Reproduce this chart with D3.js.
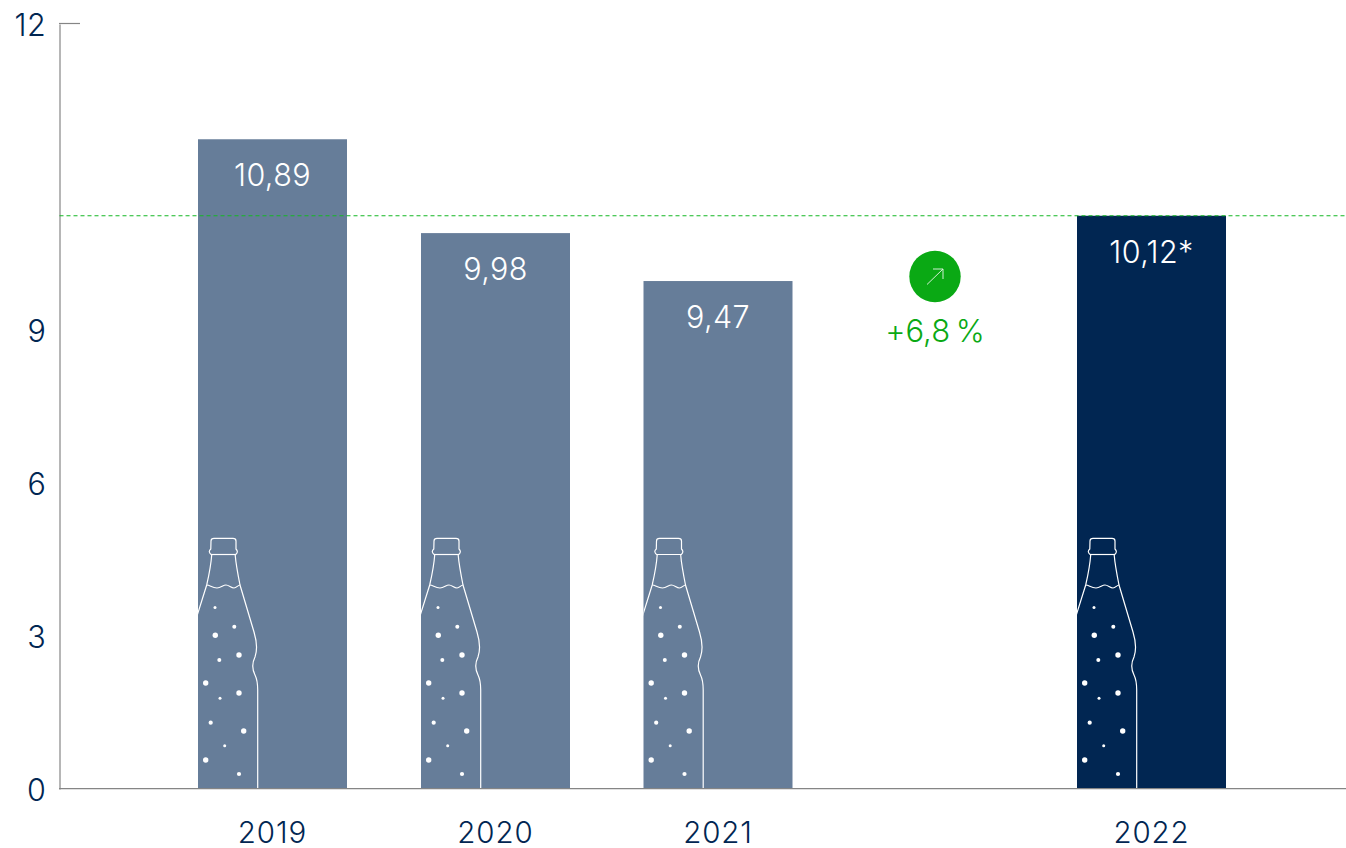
<!DOCTYPE html>
<html>
<head>
<meta charset="utf-8">
<script src="https://cdn.jsdelivr.net/npm/d3@7"></script>
<style>
html, body { margin: 0; padding: 0; background: #fff; overflow: hidden; }
text { font-family: Inter, "Noto Sans", sans-serif; font-weight: 300; }
</style>
</head>
<body>
<div id="chart"></div>
<script>
// values
const years = ["2019", "2020", "2021", "2022"];
const barLabels = ["10,89", "9,98", "9,47", "10,12*"];
const barValues = [10.87, 9.95, 9.48, 10.12];
const yTicks = [0, 3, 6, 9, 12];
const targetValue = 10.12;
const changeLabel = "+6,8\u202F%";

const navy = "#012652";
const slate = "#667d99";
const green = "#0aa914";
const axisGrey = "#858585";

const width = 1346, height = 848;
const svg = d3.select("#chart").append("svg")
    .attr("width", width)
    .attr("height", height);

// the axis of the original is not linear: 9 to 12 is stretched
const y = d3.scaleLinear().domain([0, 9, 12]).range([789, 330, 24]);
const x = d3.scaleOrdinal().domain(years).range([272.5, 495.5, 718, 1151.5]);
const barWidth = 149;

// BARS
const bars = svg.append("g").selectAll("g")
    .data(years)
    .enter().append("g");

bars.append("rect")
    .attr("x", d => x(d) - barWidth / 2)
    .attr("width", barWidth)
    .attr("y", (d, i) => y(barValues[i]))
    .attr("height", (d, i) => y(0) - y(barValues[i]))
    .attr("fill", d => d === "2022" ? navy : slate);

bars.append("text")
    .attr("x", d => x(d))
    .attr("y", (d, i) => y(barValues[i]) + 47)
    .attr("text-anchor", "middle")
    .attr("fill", "#fff")
    .attr("font-size", 30.5)
    .attr("letter-spacing", 0.4)
    .text((d, i) => barLabels[i]);

// bottle drawing, cut off by the left edge of each bar
const bottlePath = "M-1 78 L8.7 47 C11 37 13 27 13.7 17 C11 15 10.5 13 12.8 11 L13 3 Q13 0.3 16 0.3 L35 0.3 Q38 0.3 38 3 L38 11 C40 13 39.8 15 37.2 17 C38 27 40 37 42 47 L56 94 C59 104 59.5 112 57 119 C53.5 126 54 131 57 137 C59.5 142 59.7 146 59.7 152 L59.7 250";
const bottleNeck = "M13 16.5 L38 16.5";
const bottleWave = "M8.7 47 C12 47 14 50 19 50 C23 50 25 47 28 47 C31 47 33 50 36 50 C38.5 50 40 47 42 47";
const bubbles = [[17, 69.5, 1.5], [36.3, 88.7, 2], [17.3, 97.3, 2.7], [21.3, 122, 2], [41, 117, 2.7], [7.7, 145, 2.7], [22, 160.3, 1.5], [41, 155, 2.7], [12.7, 184.7, 2.1], [45.7, 193, 2.7], [26.7, 207.7, 1.5], [7.7, 222, 2.7], [41, 236, 2.1]];

svg.append("defs").selectAll("clipPath")
    .data(years)
    .enter().append("clipPath")
    .attr("id", d => "clip" + d)
    .append("rect")
    .attr("x", d => x(d) - barWidth / 2)
    .attr("width", barWidth)
    .attr("y", 500)
    .attr("height", y(0) - 500);

const bottles = svg.append("g").selectAll("g")
    .data(years)
    .enter().append("g")
    .attr("clip-path", d => "url(#clip" + d + ")")
    .append("g")
    .attr("transform", d => "translate(" + (x(d) - barWidth / 2) + ",538)");

bottles.selectAll("path")
    .data([bottlePath, bottleNeck, bottleWave])
    .enter().append("path")
    .attr("d", d => d)
    .attr("fill", "none")
    .attr("stroke", "#fff")
    .attr("stroke-width", 1.2);

bottles.selectAll("circle")
    .data(bubbles)
    .enter().append("circle")
    .attr("cx", d => d[0])
    .attr("cy", d => d[1])
    .attr("r", d => d[2])
    .attr("fill", "#fff");

// AXES
const yAxis = d3.axisLeft(y).tickValues(yTicks).tickSize(0).tickPadding(13);
const gy = svg.append("g")
    .attr("transform", "translate(59.5,0)")
    .call(yAxis);
gy.select(".domain").attr("stroke", axisGrey).attr("stroke-width", 1.2);
gy.selectAll("text")
    .attr("font-size", 30.5)
    .attr("letter-spacing", 0.7)
    .attr("fill", navy)
    .attr("dy", "0.38em");

// only the top tick is drawn
svg.append("line")
    .attr("x1", 59).attr("x2", 80)
    .attr("y1", y(12) - 0.5).attr("y2", y(12) - 0.5)
    .attr("stroke", axisGrey)
    .attr("stroke-width", 1.2);

svg.append("line")
    .attr("x1", 59).attr("x2", width)
    .attr("y1", y(0) - 0.4).attr("y2", y(0) - 0.4)
    .attr("stroke", axisGrey)
    .attr("stroke-width", 1.2);

svg.append("g").selectAll("text")
    .data(years)
    .enter().append("text")
    .attr("x", d => x(d))
    .attr("y", 843)
    .attr("text-anchor", "middle")
    .attr("font-size", 29.5)
    .attr("letter-spacing", 0.9)
    .attr("fill", navy)
    .text(d => d);

// TARGET LINE
svg.append("line")
    .attr("x1", 59.5).attr("x2", width)
    .attr("y1", y(targetValue)).attr("y2", y(targetValue))
    .attr("stroke", "#14b824")
    .attr("stroke-width", 1.2)
    .attr("stroke-dasharray", "4 3");

// CHANGE BADGE
const badge = svg.append("g").attr("transform", "translate(935,276.5)");
badge.append("circle").attr("r", 25.7).attr("fill", green);
badge.append("path")
    .attr("d", "M-8 8 L8 -7.5 M-2 -7.5 L8 -7.5 L8 2.5")
    .attr("fill", "none")
    .attr("stroke", "#e8f6e8")
    .attr("stroke-width", 0.9);

svg.append("text")
    .attr("x", 935)
    .attr("y", 342)
    .attr("text-anchor", "middle")
    .attr("font-size", 31)
    .attr("letter-spacing", 0.7)
    .attr("fill", green)
    .text(changeLabel);
</script>
</body>
</html>
